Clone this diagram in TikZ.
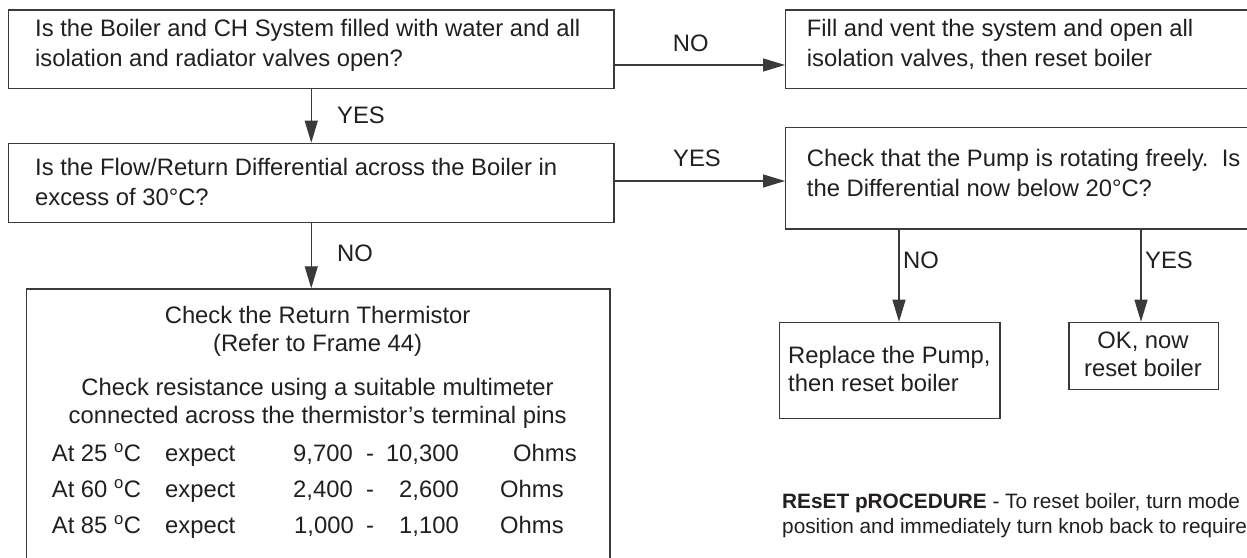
\documentclass[tikz,border=0pt]{standalone}
\usepackage{fontspec}
\setmainfont{Liberation Sans}
\usetikzlibrary{arrows.meta}
\definecolor{ink}{HTML}{231F20}
\definecolor{linec}{HTML}{3A3A3A}
\begin{document}
\begin{tikzpicture}[x=1pt,y=-1pt,
  box/.style={draw=linec, line width=1.2pt, rectangle, inner sep=0pt, anchor=north west},
  txt/.style={anchor=base west, inner sep=0pt, text=ink, font=\fontsize{23.8}{29.5}\selectfont},
  ctxt/.style={anchor=base, inner sep=0pt, text=ink, font=\fontsize{23.8}{29.5}\selectfont},
  rtxt/.style={anchor=base east, inner sep=0pt, text=ink, font=\fontsize{23.8}{29.5}\selectfont},
  small/.style={anchor=base west, inner sep=0pt, text=ink, font=\fontsize{20.8}{24}\selectfont},
  arr/.style={draw=linec, line width=1.2pt, -{Triangle[length=22pt,width=13pt]}}]
\useasboundingbox (0,0) rectangle (1247,557);
\clip (0,0) rectangle (1247,557);
\fill[white] (0,0) rectangle (1247,557);

% boxes
\node[box, minimum width=605.3pt, minimum height=78.7pt] (b1) at (8,9.3) {};
\node[box, minimum width=500pt, minimum height=78.7pt] (b2) at (785,9.3) {};
\node[box, minimum width=605.3pt, minimum height=79pt] (b3) at (8,142.7) {};
\node[box, minimum width=500pt, minimum height=101.6pt] (b4) at (785,126.7) {};
\node[box, minimum width=583.3pt, minimum height=320pt] (b5) at (26,288.3) {};
\node[box, minimum width=220.3pt, minimum height=96pt] (b6) at (779,321.7) {};
\node[box, minimum width=149.4pt, minimum height=67pt] (b7) at (1068.3,321.7) {};

% guide coordinates for connectors
\coordinate (h1) at (700,65);
\coordinate (h2) at (700,181);
\coordinate (v1) at (899,270);
\coordinate (v2) at (1141,270);

% connectors
\draw[arr] (b1.east |- h1) -- (b2.west |- h1);
\draw[arr] (b1.south) -- (b3.north);
\draw[arr] (b3.east |- h2) -- (b4.west |- h2);
\draw[arr] (b3.south) -- (b3.south |- b5.north);
\draw[arr] (b4.south -| v1) -- (b6.north -| v1);
\draw[arr] (b4.south -| v2) -- (b7.north -| v2);

% labels
\node[ctxt] (lno1) at (690.8,51.7) {NO};
\node[txt] (lyes1) at (337,123.3) {YES};
\node[ctxt] (lyes2) at (697,166.7) {YES};
\node[txt] (lno2) at (337,261.7) {NO};
\node[txt] (lno3) at (903,268) {NO};
\node[txt] (lyes3) at (1145,268) {YES};

% box texts
\node[txt] (t1a) at (35,36.7) {Is the Boiler and CH System filled with water and all};
\node[txt] (t1b) at (35,66) {isolation and radiator valves open?};
\node[txt] (t2a) at (806.7,36.7) {Fill and vent the system and open all};
\node[txt] (t2b) at (806.7,66) {isolation valves, then reset boiler};
\node[txt] (t3a) at (35,175) {Is the Flow/Return Differential across the Boiler in};
\node[txt] (t3b) at (35,205) {excess of 30°C?};
\node[txt] (t4a) at (806.7,166.7) {Check that the Pump is rotating freely.\ \ Is};
\node[txt] (t4b) at (806.7,196.7) {the Differential now below 20°C?};

\node[ctxt] (t5a) at (317.6,323.3) {Check the Return Thermistor};
\node[ctxt] (t5b) at (317.6,351.7) {(Refer to Frame 44)};
\node[ctxt] (t5c) at (317.6,395) {Check resistance using a suitable multimeter};
\node[ctxt] (t5d) at (317.6,423.3) {connected across the thermistor’s terminal pins};

\node[txt] (r1a) at (51.7,461.7) {At 25 \textsuperscript{o}C};
\node[txt] (r1b) at (165,461.7) {expect};
\node[txt] (r1c) at (293,461.7) {9,700};
\node[ctxt] (r1d) at (370,461.7) {-};
\node[rtxt] (r1e) at (459,461.7) {10,300};
\node[txt] (r1f) at (513,461.7) {Ohms};

\node[txt] (r2a) at (51.7,497.3) {At 60 \textsuperscript{o}C};
\node[txt] (r2b) at (165,497.3) {expect};
\node[txt] (r2c) at (293,497.3) {2,400};
\node[ctxt] (r2d) at (370,497.3) {-};
\node[rtxt] (r2e) at (459,497.3) {2,600};
\node[txt] (r2f) at (500,497.3) {Ohms};

\node[txt] (r3a) at (51.7,533.3) {At 85 \textsuperscript{o}C};
\node[txt] (r3b) at (165,533.3) {expect};
\node[txt] (r3c) at (294,533.3) {1,000};
\node[ctxt] (r3d) at (370,533.3) {-};
\node[rtxt] (r3e) at (459,533.3) {1,100};
\node[txt] (r3f) at (500,533.3) {Ohms};

\node[txt] (t6a) at (788,363.3) {Replace the Pump,};
\node[txt] (t6b) at (788,391.7) {then reset boiler};
\node[ctxt] (t7a) at (1143,348.3) {OK, now};
\node[ctxt] (t7b) at (1143,376.7) {reset boiler};

% reset procedure note
\node[small] (n1) at (782,508) {\textbf{REsET pROCEDURE} - To reset boiler, turn mode};
\node[small] (n2) at (782,533) {position and immediately turn knob back to require};
\end{tikzpicture}
\end{document}
